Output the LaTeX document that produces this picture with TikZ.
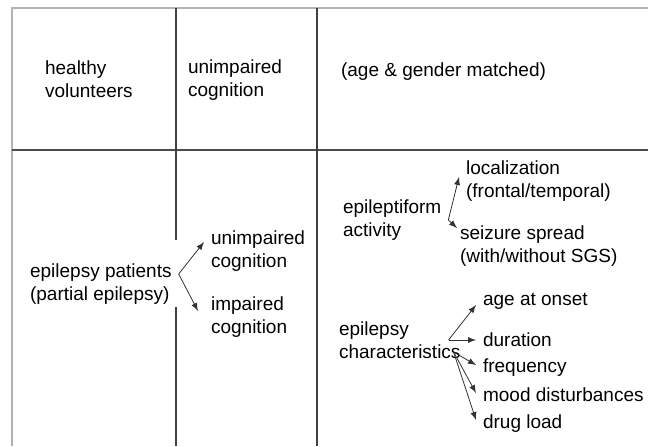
\documentclass[tikz,border=0pt]{standalone}
\usepackage{fontspec}
\setmainfont{Liberation Sans}

\begin{document}
\begin{tikzpicture}[> = latex, x = 0.5pt, y = -0.5pt,
	every node/.style = {font = \fontsize{9.5pt}{11.5pt}\selectfont, align = left, anchor = west},
	arrow/.style = {->, thin, black!80}]

	\useasboundingbox (0, 0) rectangle (648, 446);

	% Table lines
	
	\draw [gray!60, thick] (12, 446) -- (12, 8) -- (648, 8);
	\draw [black!70, very thick] (12, 150) -- (648, 150);
	
	\draw [black!75, thick] (176, 8) -- (176, 240);
	\draw [black!75, thick] (176, 307) -- (176, 446);
	\draw [black!75, thick] (317, 8) -- (317, 446);
	
	% Header row
	
	\node (healthy) at (38, 79) {healthy\\volunteers};
	\node (unimpHead) at (181, 80) {unimpaired\\cognition};
	\node (matched) at (334, 72) {(age \& gender matched)};
	
	% Patients + cognition split
	
	\node (patients) at (23, 284) {epilepsy patients\\(partial epilepsy)};
	\node (unimp) at (204, 251) {unimpaired\\cognition};
	\node (imp) at (204, 317) {impaired\\cognition};
	
	\draw [arrow] ([yshift = 5pt] patients.east) -- ([yshift = 4.5pt] unimp.west);
	\draw [arrow] ([yshift = 5pt] patients.east) -- ([xshift = -3pt, yshift = 3pt] imp.west);
	
	% Epileptiform activity
	
	\node (activity) at (336, 220) {epileptiform\\activity};
	\node (loc) at (459, 181) {localization\\(frontal/temporal)};
	\node (spread) at (453, 246) {seizure spread\\(with/without SGS)};
	
	\draw [arrow] (activity.east) -- ([yshift = 2pt] loc.west);
	\draw [arrow] (activity.east) -- ([xshift = 2pt, yshift = 9pt] spread.west);
	
	% Epilepsy characteristics
	
	\node (charact) at (332, 340) {epilepsy\\characteristics};
	\node (onset) at (476, 301) {age at onset};
	\node (duration) at (476, 340) {duration};
	\node (frequency) at (476, 368) {frequency};
	\node (mood) at (476, 395) {mood disturbances};
	\node (drug) at (476, 424) {drug load};
	
	\coordinate (fanTop) at ([xshift = -9.5pt] charact.east);
	\coordinate (fanLow) at ([xshift = -7pt, yshift = -6pt] charact.east);
	
	\draw [arrow] (fanTop) -- ([yshift = -2pt] onset.west);
	\draw [arrow] (fanTop) -- (duration.west);
	\draw [arrow] (fanLow) -- ([yshift = 1.5pt] frequency.west);
	\draw [arrow] (fanLow) -- ([yshift = 1pt] mood.west);
	\draw [arrow] (fanLow) -- ([yshift = 2pt] drug.west);

\end{tikzpicture}
\end{document}
